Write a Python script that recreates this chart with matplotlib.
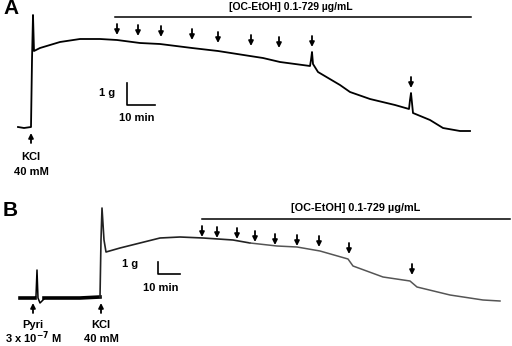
import matplotlib.pyplot as plt

plt.rcParams['font.family'] = ['Liberation Sans', 'DejaVu Sans']
plt.rcParams['font.weight'] = 'bold'

# panel A trace (x, y in figure pixels)
a_x = [18, 24, 31, 32, 33, 34, 40, 60, 80, 100, 117, 140, 160, 192, 218, 250,
       263, 280, 310, 311, 312, 313, 318, 340, 350, 370, 395, 409, 410, 411,
       413, 430, 443, 460, 470]
a_y = [127, 128, 127, 60, 15, 51, 48, 42, 39, 39, 40, 43, 44, 48, 51, 56,
       58, 62, 66, 60, 52, 64, 72, 85, 92, 99, 105, 109, 100, 93,
       113, 120, 128, 131, 131]
a_arrows = [117, 138, 161, 192, 218, 251, 279, 312, 411]
a_arrow_tip = [35, 36, 37, 40, 43, 46, 48, 47, 88]

# panel B trace: noisy baseline, pyrilamine spike, then KCl contraction
b_base1_x = [20, 35]
b_base1_y = [298, 298]
b_spike_x = [35, 36, 37, 38, 40, 44]
b_spike_y = [298, 296, 270, 298, 303, 299]
b_base2_x = [44, 60, 80, 100]
b_base2_y = [298, 298, 298, 297]
b_x = [100, 101, 102, 104, 106, 120, 140, 160, 180, 203, 233, 250, 277,
       297, 320, 348, 353, 383, 410, 417, 450, 483, 500]
b_y = [297, 240, 208, 240, 252, 248, 243, 238, 237, 238, 240, 243, 246,
       247, 251, 259, 266, 277, 281, 287, 295, 300, 301]
b_arrows = [202, 217, 237, 255, 275, 297, 319, 349, 412]
b_arrow_tip = [237, 238, 239, 242, 245, 246, 247, 254, 275]

label = '[OC-EtOH] 0.1-729 \u00b5g/mL'

fig = plt.figure(figsize=(5.12, 3.46), dpi=100)
ax = fig.add_axes([0, 0, 1, 1])
ax.set_xlim(0, 512)
ax.set_ylim(346, 0)
ax.axis('off')

def down_arrows(xs, tips):
    for x, t in zip(xs, tips):
        ax.annotate('', xy=(x, t), xytext=(x, t - 11),
                    arrowprops=dict(arrowstyle='-|>', color='black', lw=1.3,
                                    mutation_scale=7, shrinkA=0, shrinkB=0))

def up_arrow(x, y):
    ax.annotate('', xy=(x, y - 10), xytext=(x, y),
                arrowprops=dict(arrowstyle='-|>', color='black', lw=1.3,
                                mutation_scale=7, shrinkA=0, shrinkB=0))

# ---- A ----
ax.text(3, 9, 'A', fontsize=15, fontweight='bold', va='center')
ax.plot(a_x, a_y, color='black', lw=1.3)
ax.plot([115, 471], [17, 17], color='black', lw=1.1)
ax.text(291, 7, label, fontsize=7.5, ha='center', va='center')
down_arrows(a_arrows, a_arrow_tip)
ax.plot([127, 127, 155], [83, 105, 105], color='black', lw=1.2)
ax.text(107, 93, '1 g', fontsize=8, ha='center', va='center')
ax.text(137, 118, '10 min', fontsize=8, ha='center', va='center')
up_arrow(31, 143)
ax.text(31, 157, 'KCl', fontsize=8, ha='center', va='center')
ax.text(31, 172, '40 mM', fontsize=8, ha='center', va='center')

# ---- B ----
ax.text(3, 211, 'B', fontsize=15, fontweight='bold', va='center')
ax.plot(b_base1_x, b_base1_y, color='black', lw=2.6)
ax.plot(b_spike_x, b_spike_y, color='black', lw=1.1)
ax.plot(b_base2_x, b_base2_y, color='black', lw=2.6)
ax.plot(b_x[:12], b_y[:12], color='#222222', lw=1.2)
ax.plot(b_x[11:], b_y[11:], color='#555555', lw=1.1)
ax.plot([202, 510], [219, 219], color='black', lw=1.1)
ax.text(356, 208, label, fontsize=7.8, ha='center', va='center')
down_arrows(b_arrows, b_arrow_tip)
ax.plot([158, 158, 180], [262, 274, 274], color='black', lw=1.2)
ax.text(130, 264, '1 g', fontsize=8, ha='center', va='center')
ax.text(161, 288, '10 min', fontsize=8, ha='center', va='center')
up_arrow(33, 313)
ax.text(33, 325, 'Pyri', fontsize=8, ha='center', va='center')
ax.text(33, 338, '3 x 10$^{\\mathbf{-7}}$ M', fontsize=8, ha='center', va='center')
up_arrow(101, 313)
ax.text(101, 325, 'KCl', fontsize=8, ha='center', va='center')
ax.text(101, 339, '40 mM', fontsize=8, ha='center', va='center')

fig.savefig('out.png', dpi=100)
